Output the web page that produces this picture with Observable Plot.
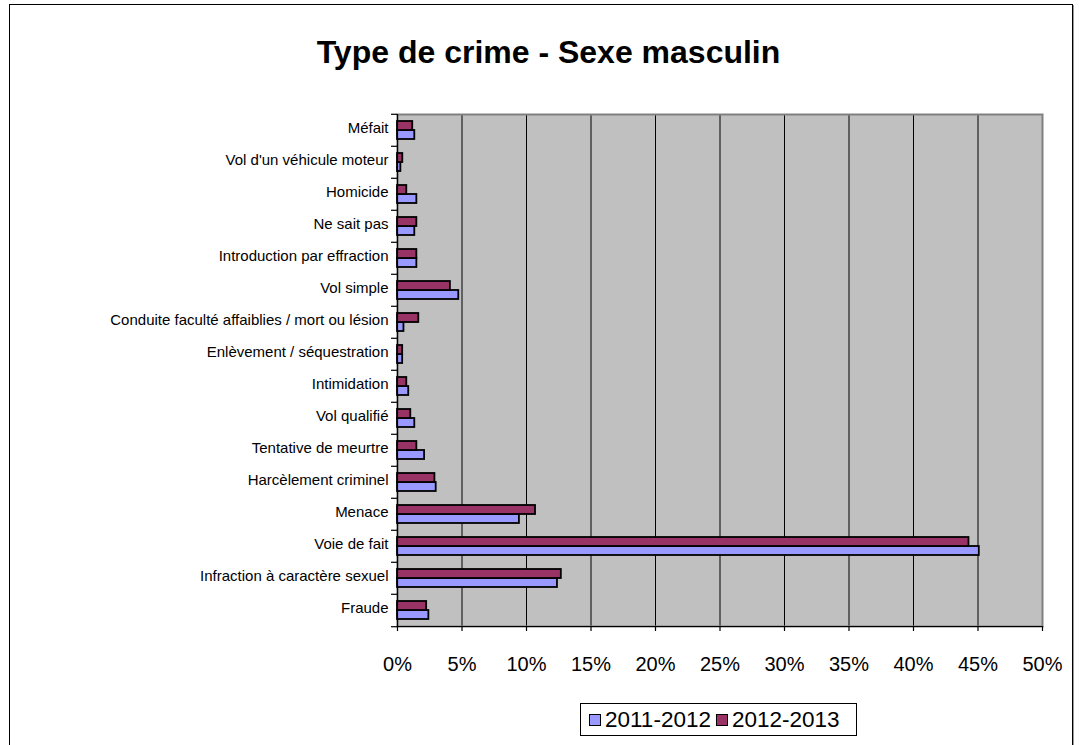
<!DOCTYPE html>
<html>
<head>
<meta charset="utf-8">
<script src="https://cdn.jsdelivr.net/npm/d3@7"></script>
<script src="https://cdn.jsdelivr.net/npm/@observablehq/plot@0.6"></script>
<style>
  html, body { margin: 0; padding: 0; background: #fff; overflow: hidden; }
  #wrap { position: relative; width: 1081px; height: 745px; font-family: "Liberation Sans", Arial, sans-serif; }
  #border { position: absolute; left: 9px; top: 4px; width: 1062px; height: 800px; border: 1px solid #000; box-shadow: 1px 1px 0 #999; }
  #title { position: absolute; left: 0; top: 33px; width: 1097px; text-align: center; font-weight: bold; font-size: 32px; line-height: 38px; color: #000; }
  #chart { position: absolute; left: 0; top: 0; }
  #legend { position: absolute; left: 580px; top: 703px; width: 275px; height: 31px; border: 1px solid #000; background: #fff; display: flex; align-items: center; font-size: 22.5px; color: #000; }
  .item { display: flex; align-items: center; margin-left: 8px; }
  .item + .item { margin-left: 5px; }
  .sw { width: 10px; height: 10px; border: 1px solid #000; margin-right: 4px; }
</style>
</head>
<body>
<div id="wrap">
  <div id="border"></div>
  <div id="chart"></div>
  <div id="title">Type de crime - Sexe masculin</div>
  <div id="legend"></div>
</div>
<script>
const categories = [
  "Méfait",
  "Vol d'un véhicule moteur",
  "Homicide",
  "Ne sait pas",
  "Introduction par effraction",
  "Vol simple",
  "Conduite faculté affaiblies / mort ou lésion",
  "Enlèvement / séquestration",
  "Intimidation",
  "Vol qualifié",
  "Tentative de meurtre",
  "Harcèlement criminel",
  "Menace",
  "Voie de fait",
  "Infraction à caractère sexuel",
  "Fraude"
];
const seriesNames = ["2011-2012", "2012-2013"];
const seriesColors = ["#9999FF", "#993366"];
const values2011 = [1.34, 0.26, 1.5, 1.34, 1.5, 4.75, 0.5, 0.4, 0.87, 1.34, 2.1, 3.0, 9.45, 45.1, 12.4, 2.43];
const values2012 = [1.18, 0.41, 0.72, 1.5, 1.5, 4.1, 1.65, 0.4, 0.72, 1.03, 1.5, 2.9, 10.7, 44.3, 12.7, 2.26];
const xTicks = [0, 5, 10, 15, 20, 25, 30, 35, 40, 45, 50];

const rows = categories.flatMap((c, i) => [
  {category: c, series: seriesNames[0], value: values2011[i]},
  {category: c, series: seriesNames[1], value: values2012[i]}
]);

const W = 1081, H = 700, mTop = 110, mBottom = 71, mLeft = 397, mRight = 39;
const band = (H - mTop - mBottom) / categories.length;

const chart = Plot.plot({
  width: W,
  height: H,
  marginTop: mTop,
  marginBottom: mBottom,
  marginLeft: mLeft,
  marginRight: mRight,
  style: {fontFamily: "'Liberation Sans', Arial, sans-serif", color: "#000", background: "transparent"},
  x: {domain: [0, 50], axis: null},
  fy: {domain: categories, padding: 0, axis: null},
  y: {domain: [seriesNames[1], seriesNames[0]], paddingInner: 0, paddingOuter: 0.65, axis: null},
  color: {domain: seriesNames, range: seriesColors},
  marks: [
    Plot.frame({facet: "super", fill: "#C0C0C0"}),
    Plot.ruleX(xTicks.slice(1, -1), {stroke: "#000", strokeWidth: 1}),
    Plot.frame({facet: "super", stroke: "#808080", strokeWidth: 2}),
    Plot.barX(rows, {fy: "category", y: "series", x: "value", fill: "series", stroke: "#000", strokeWidth: 1.8}),
    Plot.frame({facet: "super", anchor: "left", stroke: "#000", strokeWidth: 1.2}),
    Plot.frame({facet: "super", anchor: "bottom", stroke: "#000", strokeWidth: 1.2}),
    Plot.axisFy({anchor: "left", tickSize: 0, tickPadding: 9, fontSize: 15, dy: -2, label: null}),
    Plot.axisFy({anchor: "left", tickSize: 6, tickFormat: () => "", dy: -band / 2, label: null, strokeWidth: 1.2}),
    Plot.axisFy({anchor: "left", ticks: [categories[categories.length - 1]], tickSize: 6, tickFormat: () => "", dy: band / 2, label: null, strokeWidth: 1.2}),
    Plot.axisX({ticks: xTicks, tickFormat: d => d + "%", tickSize: 5, tickPadding: 25, fontSize: 20, label: null, strokeWidth: 1.2})
  ]
});
document.getElementById("chart").appendChild(chart);

const legend = document.getElementById("legend");
seriesNames.forEach((s, i) => {
  const item = document.createElement("div");
  item.className = "item";
  const sw = document.createElement("div");
  sw.className = "sw";
  sw.style.background = seriesColors[i];
  const t = document.createElement("span");
  t.textContent = s;
  item.appendChild(sw);
  item.appendChild(t);
  legend.appendChild(item);
});
</script>
</body>
</html>
